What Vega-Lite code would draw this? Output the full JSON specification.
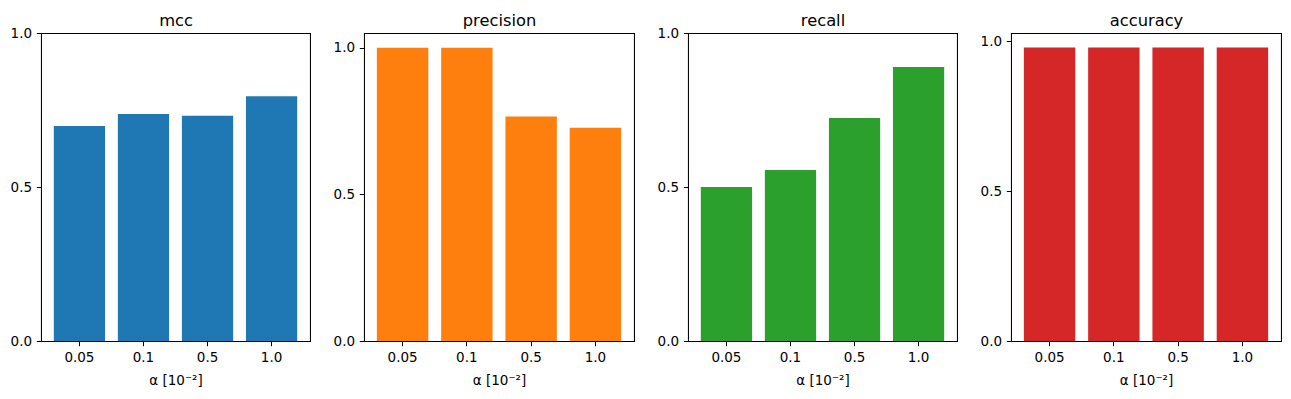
{
  "$schema": "https://vega.github.io/schema/vega-lite/v6.json",
  "padding": {"left": 9, "top": 11, "right": 5, "bottom": 5},
  "background": "white",
  "datasets": {
    "scores": [
      {"metric": "mcc", "alpha": "0.05", "value": 0.698},
      {"metric": "mcc", "alpha": "0.1", "value": 0.737},
      {"metric": "mcc", "alpha": "0.5", "value": 0.731},
      {"metric": "mcc", "alpha": "1.0", "value": 0.795},
      {"metric": "precision", "alpha": "0.05", "value": 1.0},
      {"metric": "precision", "alpha": "0.1", "value": 1.0},
      {"metric": "precision", "alpha": "0.5", "value": 0.765},
      {"metric": "precision", "alpha": "1.0", "value": 0.727},
      {"metric": "recall", "alpha": "0.05", "value": 0.5},
      {"metric": "recall", "alpha": "0.1", "value": 0.555},
      {"metric": "recall", "alpha": "0.5", "value": 0.724},
      {"metric": "recall", "alpha": "1.0", "value": 0.89},
      {"metric": "accuracy", "alpha": "0.05", "value": 0.978},
      {"metric": "accuracy", "alpha": "0.1", "value": 0.978},
      {"metric": "accuracy", "alpha": "0.5", "value": 0.978},
      {"metric": "accuracy", "alpha": "1.0", "value": 0.978}
    ]
  },
  "data": {"name": "scores"},
  "spacing": 54,
  "bounds": "flush",
  "config": {
    "font": "DejaVu Sans",
    "view": {"stroke": "black", "strokeWidth": 1.05},
    "axis": {
      "grid": false,
      "domain": false,
      "tickColor": "black",
      "tickWidth": 1.05,
      "tickSize": 4.7,
      "labelPadding": 4.7,
      "labelFont": "DejaVu Sans",
      "labelFontSize": 13.5,
      "labelColor": "black",
      "titleFont": "DejaVu Sans",
      "titleFontSize": 13.5,
      "titleFontWeight": "normal",
      "titleColor": "black"
    }
  },
  "hconcat": [
    {
      "width": 269, "height": 308,
      "transform": [{"filter": "datum.metric == 'mcc'"}],
      "layer": [
        {
          "mark": {"type": "bar", "color": "#1f77b4"},
          "encoding": {
            "x": {"field": "alpha", "type": "ordinal", "sort": ["0.05", "0.1", "0.5", "1.0"], "scale": {"paddingInner": 0.2, "paddingOuter": 0.2}, "axis": {"orient": "bottom", "labelAngle": 0, "title": "α [10⁻²]", "titlePadding": 10}},
            "y": {"field": "value", "type": "quantitative", "scale": {"domain": [0, 1], "nice": false}, "axis": {"values": [0, 0.5, 1], "format": ".1f", "title": null}}
          }
        },
        {
          "mark": {"type": "bar", "opacity": 0},
          "encoding": {
            "x": {"field": "alpha", "type": "ordinal", "sort": ["0.05", "0.1", "0.5", "1.0"], "axis": {"orient": "top", "labels": false, "ticks": false, "domain": false, "title": "mcc", "titleFontSize": 16.3, "titlePadding": 8, "titleBaseline": "alphabetic"}},
            "y": {"field": "value", "type": "quantitative"}
          }
        }
      ],
      "resolve": {"axis": {"x": "independent"}}
    },
    {
      "width": 270, "height": 308,
      "transform": [{"filter": "datum.metric == 'precision'"}],
      "layer": [
        {
          "mark": {"type": "bar", "color": "#ff7f0e"},
          "encoding": {
            "x": {"field": "alpha", "type": "ordinal", "sort": ["0.05", "0.1", "0.5", "1.0"], "scale": {"paddingInner": 0.2, "paddingOuter": 0.2}, "axis": {"orient": "bottom", "labelAngle": 0, "title": "α [10⁻²]", "titlePadding": 10}},
            "y": {"field": "value", "type": "quantitative", "scale": {"domain": [0, 1.05], "nice": false}, "axis": {"values": [0, 0.5, 1], "format": ".1f", "title": null}}
          }
        },
        {
          "mark": {"type": "bar", "opacity": 0},
          "encoding": {
            "x": {"field": "alpha", "type": "ordinal", "sort": ["0.05", "0.1", "0.5", "1.0"], "axis": {"orient": "top", "labels": false, "ticks": false, "domain": false, "title": "precision", "titleFontSize": 16.3, "titlePadding": 8, "titleBaseline": "alphabetic"}},
            "y": {"field": "value", "type": "quantitative"}
          }
        }
      ],
      "resolve": {"axis": {"x": "independent"}}
    },
    {
      "width": 269, "height": 308,
      "transform": [{"filter": "datum.metric == 'recall'"}],
      "layer": [
        {
          "mark": {"type": "bar", "color": "#2ca02c"},
          "encoding": {
            "x": {"field": "alpha", "type": "ordinal", "sort": ["0.05", "0.1", "0.5", "1.0"], "scale": {"paddingInner": 0.2, "paddingOuter": 0.2}, "axis": {"orient": "bottom", "labelAngle": 0, "title": "α [10⁻²]", "titlePadding": 10}},
            "y": {"field": "value", "type": "quantitative", "scale": {"domain": [0, 1], "nice": false}, "axis": {"values": [0, 0.5, 1], "format": ".1f", "title": null}}
          }
        },
        {
          "mark": {"type": "bar", "opacity": 0},
          "encoding": {
            "x": {"field": "alpha", "type": "ordinal", "sort": ["0.05", "0.1", "0.5", "1.0"], "axis": {"orient": "top", "labels": false, "ticks": false, "domain": false, "title": "recall", "titleFontSize": 16.3, "titlePadding": 8, "titleBaseline": "alphabetic"}},
            "y": {"field": "value", "type": "quantitative"}
          }
        }
      ],
      "resolve": {"axis": {"x": "independent"}}
    },
    {
      "width": 270, "height": 308,
      "transform": [{"filter": "datum.metric == 'accuracy'"}],
      "layer": [
        {
          "mark": {"type": "bar", "color": "#d62728"},
          "encoding": {
            "x": {"field": "alpha", "type": "ordinal", "sort": ["0.05", "0.1", "0.5", "1.0"], "scale": {"paddingInner": 0.2, "paddingOuter": 0.2}, "axis": {"orient": "bottom", "labelAngle": 0, "title": "α [10⁻²]", "titlePadding": 10}},
            "y": {"field": "value", "type": "quantitative", "scale": {"domain": [0, 1.0267], "nice": false}, "axis": {"values": [0, 0.5, 1], "format": ".1f", "title": null}}
          }
        },
        {
          "mark": {"type": "bar", "opacity": 0},
          "encoding": {
            "x": {"field": "alpha", "type": "ordinal", "sort": ["0.05", "0.1", "0.5", "1.0"], "axis": {"orient": "top", "labels": false, "ticks": false, "domain": false, "title": "accuracy", "titleFontSize": 16.3, "titlePadding": 8, "titleBaseline": "alphabetic"}},
            "y": {"field": "value", "type": "quantitative"}
          }
        }
      ],
      "resolve": {"axis": {"x": "independent"}}
    }
  ]
}
